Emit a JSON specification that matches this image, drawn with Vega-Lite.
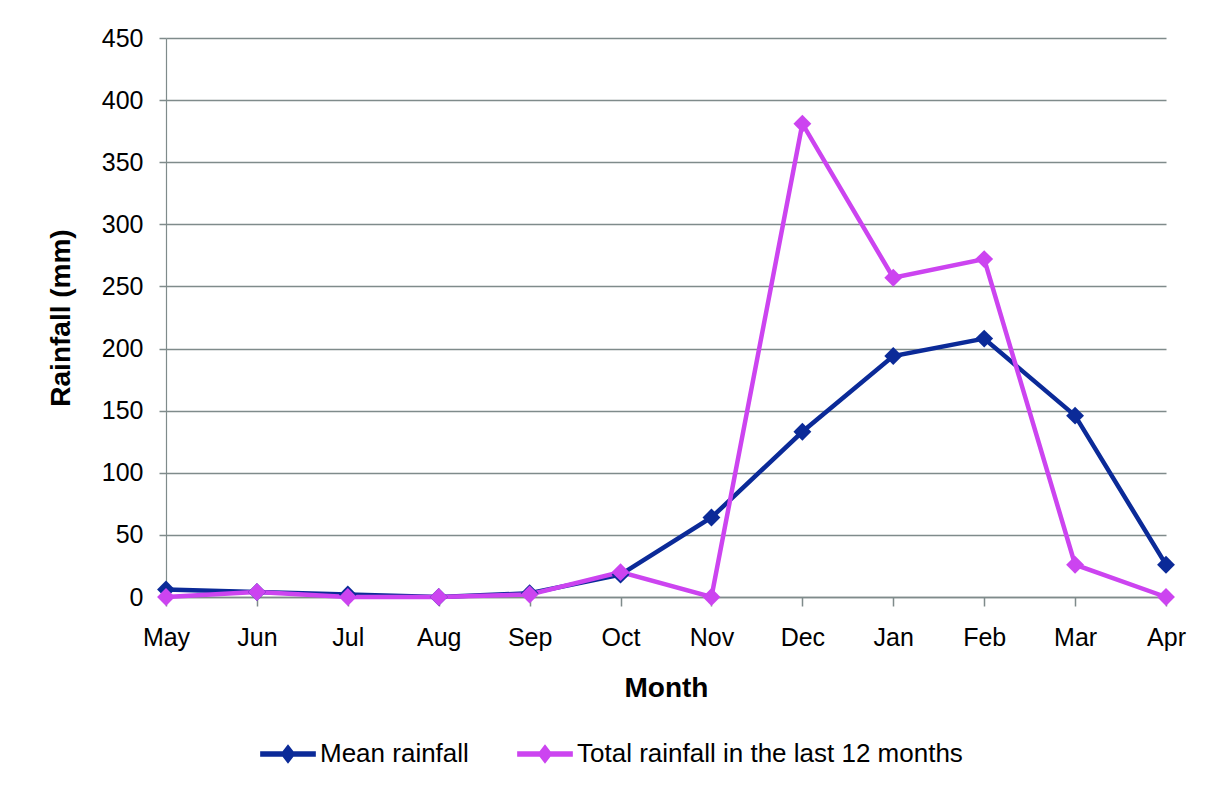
{
  "$schema": "https://vega.github.io/schema/vega-lite/v6.json",
  "width": 1000,
  "height": 559,
  "autosize": {"type": "none"},
  "padding": {"left": 166, "top": 38, "right": 46, "bottom": 199},
  "background": "white",
  "config": {
    "view": {"stroke": null},
    "font": "Liberation Sans"
  },
  "data": {
    "values": [
      {"month": "May", "series": "Mean rainfall", "rain": 6},
      {"month": "Jun", "series": "Mean rainfall", "rain": 4},
      {"month": "Jul", "series": "Mean rainfall", "rain": 2},
      {"month": "Aug", "series": "Mean rainfall", "rain": 0},
      {"month": "Sep", "series": "Mean rainfall", "rain": 3},
      {"month": "Oct", "series": "Mean rainfall", "rain": 18},
      {"month": "Nov", "series": "Mean rainfall", "rain": 64},
      {"month": "Dec", "series": "Mean rainfall", "rain": 133},
      {"month": "Jan", "series": "Mean rainfall", "rain": 194},
      {"month": "Feb", "series": "Mean rainfall", "rain": 208},
      {"month": "Mar", "series": "Mean rainfall", "rain": 146},
      {"month": "Apr", "series": "Mean rainfall", "rain": 26},
      {"month": "May", "series": "Total rainfall in the last 12 months", "rain": 0},
      {"month": "Jun", "series": "Total rainfall in the last 12 months", "rain": 4},
      {"month": "Jul", "series": "Total rainfall in the last 12 months", "rain": 0},
      {"month": "Aug", "series": "Total rainfall in the last 12 months", "rain": 0},
      {"month": "Sep", "series": "Total rainfall in the last 12 months", "rain": 2},
      {"month": "Oct", "series": "Total rainfall in the last 12 months", "rain": 20},
      {"month": "Nov", "series": "Total rainfall in the last 12 months", "rain": 0},
      {"month": "Dec", "series": "Total rainfall in the last 12 months", "rain": 381},
      {"month": "Jan", "series": "Total rainfall in the last 12 months", "rain": 257},
      {"month": "Feb", "series": "Total rainfall in the last 12 months", "rain": 272},
      {"month": "Mar", "series": "Total rainfall in the last 12 months", "rain": 26},
      {"month": "Apr", "series": "Total rainfall in the last 12 months", "rain": 0}
    ]
  },
  "encoding": {
    "x": {
      "field": "month",
      "type": "nominal",
      "sort": ["May", "Jun", "Jul", "Aug", "Sep", "Oct", "Nov", "Dec", "Jan", "Feb", "Mar", "Apr"],
      "scale": {"type": "point", "padding": 0},
      "axis": {
        "title": "Month",
        "titleFont": "Liberation Sans",
        "titleFontSize": 28,
        "titleFontWeight": "bold",
        "titleColor": "black",
        "titlePadding": 24,
        "labelFont": "Liberation Sans",
        "labelFontSize": 25,
        "labelColor": "black",
        "labelPadding": 19,
        "labelAngle": 0,
        "tickSize": 9,
        "tickColor": "#7f8b8b",
        "tickWidth": 1.5,
        "domainColor": "#7f8b8b",
        "domainWidth": 1.5,
        "grid": false
      }
    },
    "y": {
      "field": "rain",
      "type": "quantitative",
      "scale": {"domain": [0, 450], "nice": false},
      "axis": {
        "title": "Rainfall (mm)",
        "values": [0, 50, 100, 150, 200, 250, 300, 350, 400, 450],
        "titleFont": "Liberation Sans",
        "titleFontSize": 28,
        "titleFontWeight": "bold",
        "titleColor": "black",
        "titlePadding": 26,
        "labelFont": "Liberation Sans",
        "labelFontSize": 25,
        "labelColor": "black",
        "labelPadding": 16,
        "tickSize": 7,
        "tickColor": "#7f8b8b",
        "tickWidth": 1.5,
        "domainColor": "#7f8b8b",
        "domainWidth": 1.2,
        "grid": true,
        "gridColor": "#7f8b8b",
        "gridWidth": 1.5
      }
    },
    "color": {
      "field": "series",
      "type": "nominal",
      "scale": {
        "domain": ["Mean rainfall", "Total rainfall in the last 12 months"],
        "range": ["#0B2A98", "#CC44F0"]
      },
      "legend": {
        "title": null,
        "orient": "none",
        "direction": "horizontal",
        "legendX": 94,
        "legendY": 688,
        "symbolType": "M-1,-0.1H1V0.1H-1Z M0,-0.35L0.27,0L0,0.35L-0.27,0Z",
        "symbolSize": 3100,
        "symbolStrokeWidth": 0,
        "labelFont": "Liberation Sans",
        "labelFontSize": 26,
        "labelColor": "black",
        "labelOffset": 4,
        "columnPadding": 48,
        "labelLimit": 700,
        "encode": {
          "symbols": {
            "update": {
              "fill": {"scale": "color", "field": "value"},
              "fillOpacity": {"value": 1},
              "strokeWidth": {"value": 0}
            }
          }
        }
      }
    }
  },
  "layer": [
    {
      "mark": {"type": "line", "strokeWidth": 4.5},
      "encoding": {"detail": {"field": "series"}}
    },
    {
      "mark": {"type": "point", "shape": "diamond", "filled": true, "size": 320, "opacity": 1}
    }
  ]
}
